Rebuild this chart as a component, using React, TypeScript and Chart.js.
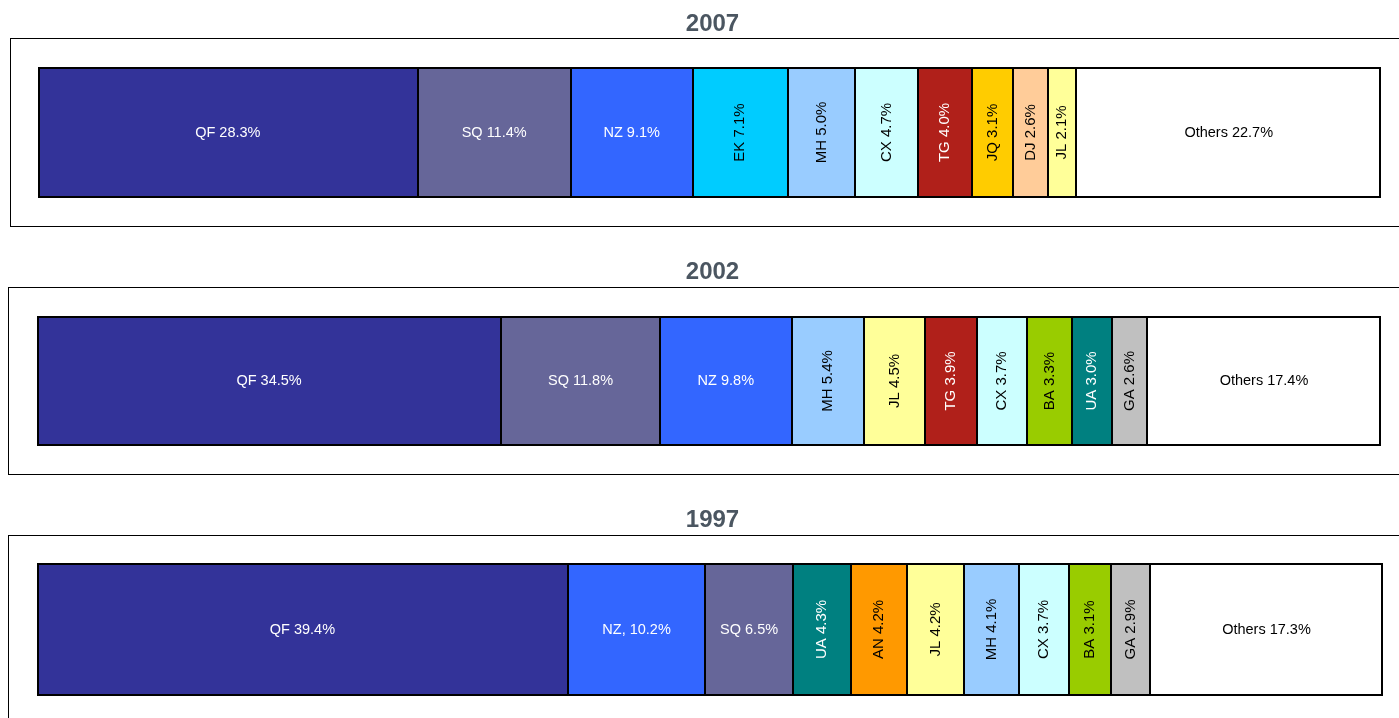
import React, { useEffect, useRef } from "react";
import { Chart, registerables } from "chart.js";

Chart.register(...registerables);

// ---- data ----
const years = ["2007", "2002", "1997"];

const carriers2007 = ["QF", "SQ", "NZ", "EK", "MH", "CX", "TG", "JQ", "DJ", "JL", "Others"];
const shares2007 = [28.3, 11.4, 9.1, 7.1, 5.0, 4.7, 4.0, 3.1, 2.6, 2.1, 22.7];

const carriers2002 = ["QF", "SQ", "NZ", "MH", "JL", "TG", "CX", "BA", "UA", "GA", "Others"];
const shares2002 = [34.5, 11.8, 9.8, 5.4, 4.5, 3.9, 3.7, 3.3, 3.0, 2.6, 17.4];

const carriers1997 = ["QF", "NZ,", "SQ", "UA", "AN", "JL", "MH", "CX", "BA", "GA", "Others"];
const shares1997 = [39.4, 10.2, 6.5, 4.3, 4.2, 4.2, 4.1, 3.7, 3.1, 2.9, 17.3];

// ---- styles ----
const COLORS: Record<string, string> = {
  QF: "#333399",
  SQ: "#666699",
  NZ: "#3366FF",
  EK: "#00CCFF",
  MH: "#99CCFF",
  CX: "#CCFFFF",
  TG: "#B0201A",
  JQ: "#FFCC00",
  DJ: "#FFCC99",
  JL: "#FFFF99",
  BA: "#99CC00",
  UA: "#008080",
  GA: "#C0C0C0",
  AN: "#FF9900",
  Others: "#FFFFFF",
};
const WHITE_TEXT = new Set(["QF", "SQ", "NZ", "TG", "UA"]);
const HORIZONTAL = new Set(["QF", "SQ", "NZ", "Others"]);
const FONT = "'Liberation Sans', Arial, Helvetica, sans-serif";

const PAGE_W = 1399;
const TITLE_X = 712.5;

type Panel = {
  year: string;
  carriers: string[];
  shares: number[];
  top: number;
  height: number;
  titleCenter: number;
  box: { l: number; t: number; b: number };
  bar: { l: number; r: number; t: number; b: number };
};

const panels: Panel[] = [
  {
    year: years[0], carriers: carriers2007, shares: shares2007,
    top: 0, height: 240, titleCenter: 24.5,
    box: { l: 10, t: 38, b: 226 },
    bar: { l: 38, r: 1381, t: 67, b: 198 },
  },
  {
    year: years[1], carriers: carriers2002, shares: shares2002,
    top: 248, height: 240, titleCenter: 272.5,
    box: { l: 8, t: 287, b: 474 },
    bar: { l: 37, r: 1381, t: 316, b: 446 },
  },
  {
    year: years[2], carriers: carriers1997, shares: shares1997,
    top: 496, height: 222, titleCenter: 520.5,
    box: { l: 8, t: 535, b: 2000 },
    bar: { l: 37, r: 1383, t: 563, b: 696 },
  },
];

const code = (name: string) => name.replace(",", "");

function PanelChart({ p }: { p: Panel }) {
  const ref = useRef<HTMLCanvasElement | null>(null);

  useEffect(() => {
    if (!ref.current) return;
    const n = p.carriers.length;
    const total = p.shares.reduce((a, b) => a + b, 0);

    const framePlugin = {
      id: "panelFrame",
      beforeDraw(chart: any) {
        const ctx = chart.ctx;
        ctx.save();
        // panel box
        ctx.strokeStyle = "#000";
        ctx.lineWidth = 1;
        const t = p.box.t - p.top;
        const b = p.box.b - p.top;
        ctx.strokeRect(p.box.l + 0.5, t + 0.5, PAGE_W + 50, b - t);
        // title
        ctx.fillStyle = "#4b5661";
        ctx.font = `bold 24px ${FONT}`;
        ctx.textAlign = "center";
        ctx.textBaseline = "middle";
        ctx.fillText(p.year, TITLE_X, p.titleCenter - p.top);
        ctx.restore();
      },
    };

    const labelPlugin = {
      id: "segLabels",
      afterDatasetsDraw(chart: any) {
        const ctx = chart.ctx;
        const area = chart.chartArea;
        ctx.save();
        // separators between segments (at element boundaries)
        ctx.fillStyle = "#000";
        for (let i = 0; i < n - 1; i++) {
          const el = chart.getDatasetMeta(i).data[0];
          const { x } = el.getProps(["x"], true);
          ctx.fillRect(Math.round(x) - 1, area.top, 2, area.bottom - area.top);
        }
        ctx.textAlign = "center";
        ctx.textBaseline = "middle";
        p.carriers.forEach((name, i) => {
          const el = chart.getDatasetMeta(i).data[0];
          const { x, y, base } = el.getProps(["x", "y", "base"], true);
          const cx = (x + base) / 2;
          const c = code(name);
          const text = `${name} ${p.shares[i].toFixed(1)}%`;
          ctx.fillStyle = WHITE_TEXT.has(c) ? "#ffffff" : "#000000";
          if (HORIZONTAL.has(c)) {
            ctx.font = `14.5px ${FONT}`;
            ctx.fillText(text, cx, y);
          } else {
            ctx.font = `15px ${FONT}`;
            ctx.save();
            ctx.translate(cx, y);
            ctx.rotate(-Math.PI / 2);
            ctx.fillText(text, 0, 0);
            ctx.restore();
          }
        });
        ctx.restore();
      },
    };

    const chart = new Chart(ref.current, {
      type: "bar",
      data: {
        labels: [p.year],
        datasets: p.carriers.map((name, i) => ({
          label: name,
          data: [p.shares[i]],
          backgroundColor: COLORS[code(name)],
          borderColor: "#000000",
          borderWidth: { top: 2, bottom: 2, left: i === 0 ? 2 : 0, right: i === n - 1 ? 2 : 0 },
          borderSkipped: false,
          inflateAmount: 0,
          barPercentage: 1,
          categoryPercentage: 1,
        })) as any,
      },
      options: {
        indexAxis: "y",
        animation: false,
        responsive: true,
        maintainAspectRatio: false,
        layout: {
          padding: {
            left: p.bar.l,
            right: PAGE_W - p.bar.r,
            top: p.bar.t - p.top,
            bottom: p.top + p.height - p.bar.b,
          },
        },
        scales: {
          x: { stacked: true, display: false, min: 0, max: total },
          y: { stacked: true, display: false },
        },
        plugins: {
          legend: { display: false },
          tooltip: { enabled: false },
          title: { display: false },
        },
      },
      plugins: [framePlugin, labelPlugin],
    });
    return () => chart.destroy();
  }, [p]);

  return (
    <div
      style={{
        position: "absolute",
        left: 0,
        top: p.top,
        width: PAGE_W,
        height: p.height,
      }}
    >
      <canvas ref={ref} />
    </div>
  );
}

export default function App() {
  return (
    <div>
      {panels.map((p) => (
        <PanelChart key={p.year} p={p} />
      ))}
    </div>
  );
}
